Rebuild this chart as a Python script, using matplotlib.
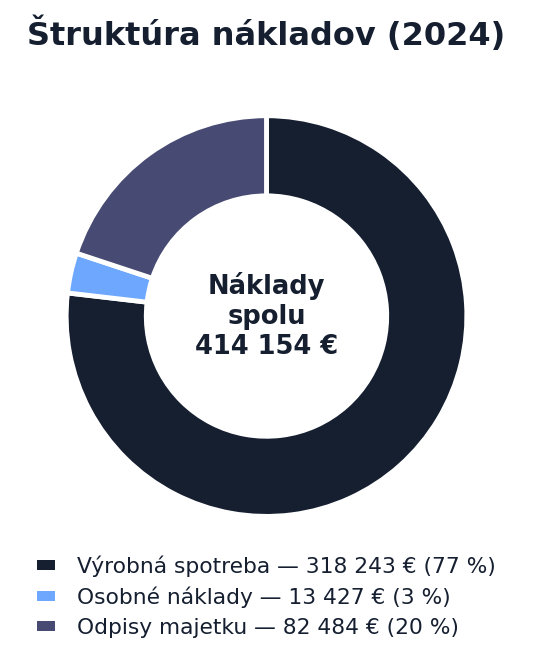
import matplotlib
matplotlib.use("Agg")
import matplotlib.pyplot as plt
from matplotlib.patches import Patch

labels = ["Výrobná spotreba", "Osobné náklady", "Odpisy majetku"]
values = [318243, 13427, 82484]
colors = ["#151f30", "#6ea8fe", "#474a72"]


def fmt(v):
    return f"{v:,}".replace(",", " ")


total = sum(values)
legend_labels = [f"{l} — {fmt(v)} € ({round(v / total * 100)} %)"
                 for l, v in zip(labels, values)]

fig = plt.figure(figsize=(5.33, 6.64), dpi=100)
ax = fig.add_axes([0.0, 0.174, 1.0, 0.7])

wedges, _ = ax.pie(values, colors=colors, startangle=90, counterclock=False,
                   radius=1.0,
                   wedgeprops=dict(width=0.4, edgecolor="white", linewidth=3.5))
ax.set_aspect("equal")
ax.set_xlim(-1.33, 1.33)
ax.set_ylim(-1.16, 1.16)

ax.text(0, 0, f"Náklady\nspolu\n{fmt(total)} €", ha="center", va="center",
        fontsize=18.5, fontweight="bold", color="#151f30", linespacing=1.2)

fig.suptitle("Štruktúra nákladov (2024)", fontsize=23, fontweight="bold",
             color="#151f30", y=0.975)

handles = [Patch(facecolor=c, edgecolor="none") for c in colors]
fig.legend(handles, legend_labels, loc="lower center", bbox_to_anchor=(0.5, 0.01),
           frameon=False, fontsize=15.7, labelcolor="#151f30",
           handlelength=0.85, handleheight=0.3, handletextpad=1.0,
           labelspacing=0.45)

fig.savefig("out.png", dpi=100)
